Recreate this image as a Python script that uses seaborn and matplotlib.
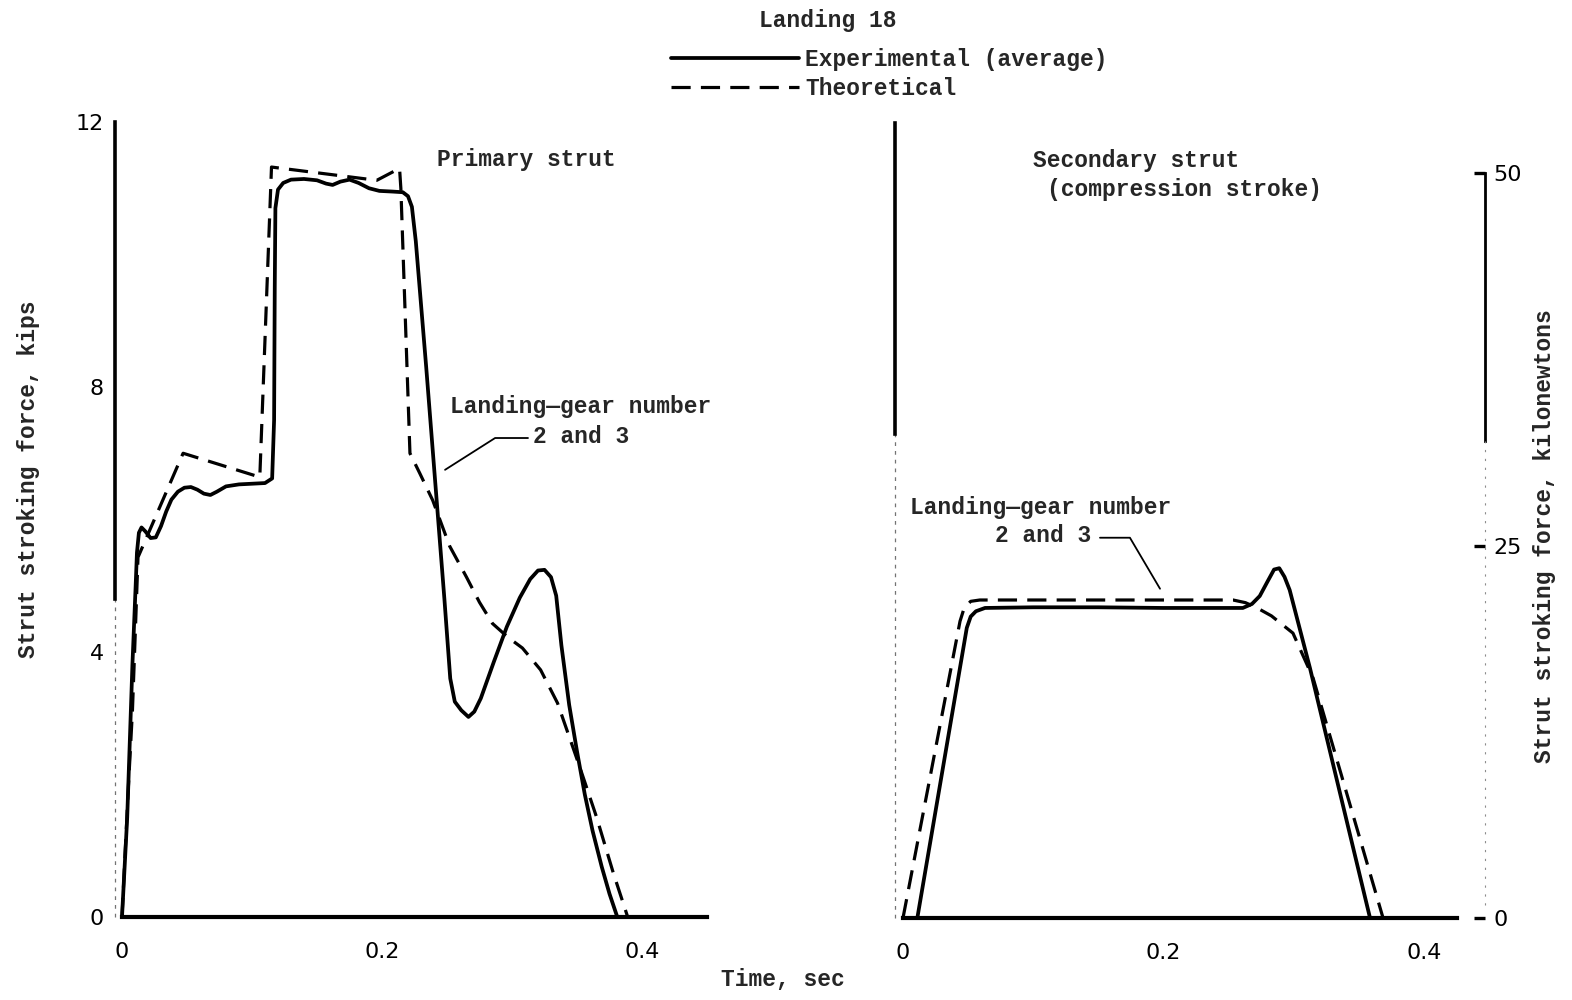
import numpy as np
import pandas as pd
import seaborn as sns
import matplotlib.pyplot as plt
from matplotlib.transforms import blended_transform_factory, ScaledTranslation

# ---- data (time in sec, force in kips) ----
t_primary_exp = [0.000, 0.004, 0.008, 0.0105, 0.0115, 0.013, 0.015, 0.018, 0.022, 0.026,
                 0.030, 0.034, 0.038, 0.043, 0.048, 0.053, 0.058, 0.063, 0.068, 0.073,
                 0.080, 0.090, 0.100, 0.110, 0.1155, 0.117, 0.1175, 0.118, 0.120, 0.124,
                 0.130, 0.140, 0.150, 0.157, 0.162, 0.168, 0.175, 0.182, 0.190, 0.198,
                 0.208, 0.216, 0.220, 0.223, 0.226, 0.234, 0.242, 0.248, 0.2525, 0.256,
                 0.261, 0.2665, 0.271, 0.276, 0.286, 0.296, 0.306, 0.314, 0.320, 0.325,
                 0.330, 0.334, 0.338, 0.344, 0.350, 0.356, 0.362, 0.369, 0.375, 0.381]
f_primary_exp = [0.0, 1.5, 3.8, 5.0, 5.5, 5.8, 5.88, 5.82, 5.72, 5.73,
                 5.9, 6.12, 6.3, 6.42, 6.48, 6.49, 6.45, 6.39, 6.37, 6.42,
                 6.5, 6.53, 6.54, 6.55, 6.62, 7.5, 9.5, 10.7, 10.98, 11.08,
                 11.13, 11.14, 11.12, 11.07, 11.05, 11.1, 11.13, 11.08, 11.0, 10.96,
                 10.95, 10.94, 10.88, 10.72, 10.2, 8.3, 6.3, 4.8, 3.6, 3.25,
                 3.12, 3.02, 3.1, 3.3, 3.85, 4.38, 4.82, 5.1, 5.23, 5.24,
                 5.13, 4.85, 4.1, 3.2, 2.5, 1.85, 1.3, 0.76, 0.35, 0.0]

t_primary_theo = [0.000, 0.005, 0.008, 0.0095, 0.0123, 0.047, 0.106, 0.115, 0.196, 0.2135,
                  0.2145, 0.2215, 0.229, 0.239, 0.252, 0.265, 0.275, 0.285, 0.297, 0.308,
                  0.322, 0.335, 0.352, 0.365, 0.378, 0.389]
f_primary_theo = [0.0, 2.0, 3.1, 3.9, 5.43, 7.0, 6.64, 11.32, 11.12, 11.3,
                  11.0, 7.0, 6.7, 6.29, 5.6, 5.13, 4.75, 4.43, 4.22, 4.06,
                  3.73, 3.23, 2.27, 1.51, 0.66, 0.0]

t_secondary_exp = [0.011, 0.049, 0.052, 0.056, 0.063, 0.100, 0.150, 0.200, 0.240, 0.261,
                   0.268, 0.274, 0.280, 0.285, 0.289, 0.293, 0.297, 0.3126, 0.3587]
f_secondary_exp = [0.0, 4.38, 4.55, 4.63, 4.68, 4.69, 4.69, 4.68, 4.68, 4.68,
                   4.74, 4.86, 5.08, 5.26, 5.28, 5.15, 4.95, 3.77, 0.0]

t_secondary_theo = [0.000, 0.0438, 0.047, 0.052, 0.059, 0.150, 0.2535, 0.263, 0.272, 0.283,
                    0.2995, 0.315, 0.3687]
f_secondary_theo = [0.0, 4.48, 4.68, 4.78, 4.8, 4.8, 4.8, 4.76, 4.68, 4.56,
                    4.3, 3.62, 0.0]

x_ticks = [0, 0.2, 0.4]
x_ticklabels = ["0", "0.2", "0.4"]
y_ticks_kips = [0, 4, 8, 12]
y_ticks_kn = [0, 25, 50]

KN_PER_KIP = 4.448222

# ---- style ----
sns.set_theme(style="white")
plt.rcParams["font.family"] = ["Liberation Mono", "DejaVu Sans"]
plt.rcParams["font.weight"] = "bold"
plt.rcParams["axes.labelweight"] = "bold"
plt.rcParams["axes.unicode_minus"] = False

FS = 16.5
TICK_FS = 16
LW_SOLID = 2.7
LW_DASH = 2.3
DASH = (0, (6, 3.2))

fig = plt.figure(figsize=(15.72, 10), dpi=100)
ax1 = fig.add_axes([122 / 1572, 0.083, 585 / 1572, 0.795])
ax2 = fig.add_axes([903 / 1572, 0.082, 554 / 1572, 0.795])

# ---- curves ----
sns.lineplot(x=t_primary_exp, y=f_primary_exp, ax=ax1, color="black",
             linewidth=LW_SOLID, sort=False, estimator=None, clip_on=False)
sns.lineplot(x=t_primary_theo, y=f_primary_theo, ax=ax1, color="black",
             linewidth=LW_DASH, linestyle=DASH, sort=False, estimator=None, clip_on=False)
sns.lineplot(x=t_secondary_exp, y=f_secondary_exp, ax=ax2, color="black",
             linewidth=LW_SOLID, sort=False, estimator=None, clip_on=False)
sns.lineplot(x=t_secondary_theo, y=f_secondary_theo, ax=ax2, color="black",
             linewidth=LW_DASH, linestyle=DASH, sort=False, estimator=None, clip_on=False)

ax1.set_xlim(0, 0.45)
ax2.set_xlim(0, 554 / 1302)
for ax in (ax1, ax2):
    ax.set_ylim(0, 12)
    ax.set_xlabel("")
    ax.set_ylabel("")
    ax.spines["top"].set_visible(False)
    ax.spines["right"].set_visible(False)
    ax.spines["bottom"].set_linewidth(3)
    ax.spines["bottom"].set_color("black")
    ax.spines["left"].set_linewidth(2.6)
    ax.spines["left"].set_color("black")
    ax.set_xticks(x_ticks)
    ax.set_xticklabels(x_ticklabels, fontweight="normal")
    ax.tick_params(axis="x", direction="in", length=9, width=2.2, pad=18,
                   labelsize=TICK_FS, labelfontfamily="DejaVu Sans", colors="black")
    ax.tick_params(axis="y", direction="in", length=11, width=2.4, pad=8,
                   labelsize=TICK_FS, labelfontfamily="DejaVu Sans", colors="black")
    ax.patch.set_alpha(0)

# left panel y axis
ax1.spines["left"].set_position(("outward", 5))
ax1.spines["left"].set_bounds(4.8, 12)
ax1.set_yticks(y_ticks_kips)
ax1.set_yticklabels([str(v) for v in y_ticks_kips], fontweight="normal")

# right panel y axis (no labels)
ax2.spines["left"].set_position(("outward", 6))
ax2.spines["left"].set_bounds(7.3, 12)
ax2.set_yticks([4, 8, 12])
ax2.set_yticklabels([])

# faint continuation of the left spines
for ax, off, top in ((ax1, 5, 4.8), (ax2, 6, 7.3)):
    tr = blended_transform_factory(ax.transAxes, ax.transData) + \
        ScaledTranslation(-off / 72, 0, fig.dpi_scale_trans)
    ax.plot([0, 0], [0, top], transform=tr, color="0.45", lw=0.9,
            ls=(0, (3, 4)), clip_on=False)

# kilonewton scale on the right
secax = ax2.secondary_yaxis((1485 - 903) / 554,
                            functions=(lambda k: k * KN_PER_KIP, lambda n: n / KN_PER_KIP))
secax.set_yticks(y_ticks_kn)
secax.set_yticklabels([str(v) for v in y_ticks_kn], fontweight="normal")
secax.spines["right"].set_linewidth(2.0)
secax.spines["right"].set_color("black")
secax.spines["right"].set_bounds(32, 50)
secax.tick_params(axis="y", direction="in", length=8, width=2.4, pad=6,
                  labelsize=TICK_FS, labelfontfamily="DejaVu Sans", colors="black")
tr = blended_transform_factory(ax2.transAxes, ax2.transData)
ax2.plot([(1485 - 903) / 554] * 2, [0.2, 32 / KN_PER_KIP], transform=tr, color="0.55",
         lw=0.8, ls=(0, (2, 6)), clip_on=False)

# ---- axis labels ----
ax1.set_ylabel("Strut stroking force, kips", fontsize=FS)
ax1.yaxis.set_label_coords(-0.14, 0.55)
secax.set_ylabel("Strut stroking force, kilonewtons", fontsize=FS, rotation=90)
secax.yaxis.set_label_coords(1.137, 0.48, transform=ax2.transAxes)
fig.text(783 / 1572, 1 - 980 / 1000, "Time, sec", fontsize=FS, ha="center", va="center")

# ---- panel titles and annotations ----
ax1.text(0.2423, 11.43, "Primary strut", fontsize=FS, ha="left", va="center")
ax2.text(0.0998, 11.43, "Secondary strut", fontsize=FS, ha="left", va="center")
ax2.text(0.1106, 11.0, "(compression stroke)", fontsize=FS, ha="left", va="center")

ax1.text(0.252, 7.7, "Landing\u2014gear number", fontsize=FS, ha="left", va="center")
ax1.text(0.316, 7.25, "2 and 3", fontsize=FS, ha="left", va="center")
ax1.plot([0.3123, 0.287, 0.2485], [7.23, 7.23, 6.75], color="black", lw=1.3)

ax2.text(0.0054, 6.19, "Landing\u2014gear number", fontsize=FS, ha="left", va="center")
ax2.text(0.0707, 5.77, "2 and 3", fontsize=FS, ha="left", va="center")
ax2.plot([0.1513, 0.1743, 0.1974], [5.74, 5.74, 4.97], color="black", lw=1.3)

# ---- header and legend ----
fig.text(828 / 1572, 1 - 20 / 1000, "Landing 18", fontsize=FS, ha="center", va="center")
fig.legend(handles=[ax1.lines[0], ax1.lines[1]],
           labels=["Experimental (average)", "Theoretical"],
           loc="upper left", bbox_to_anchor=(671 / 1572, 1 - 48 / 1000),
           frameon=False, fontsize=FS, handlelength=5.6, handletextpad=0.25,
           borderpad=0, borderaxespad=0, labelspacing=0.25)

fig.savefig("out.png", dpi=100)
